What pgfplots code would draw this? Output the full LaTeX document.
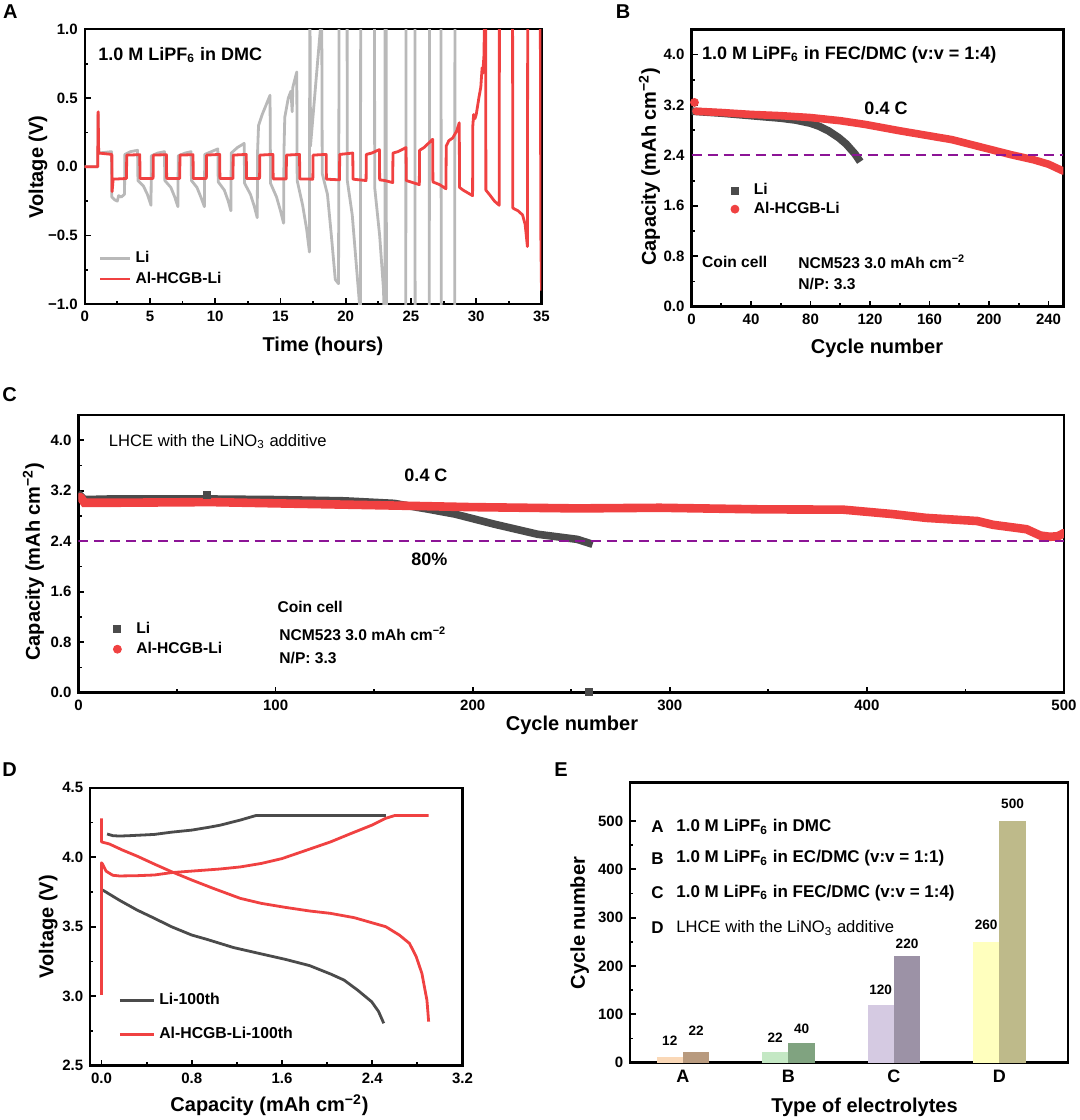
\documentclass[border=0pt]{standalone}
\usepackage{fontspec}
\setmainfont{Liberation Sans}
\usepackage{pgfplots}
\pgfplotsset{compat=1.18}
\definecolor{myred}{RGB}{240,65,65}
\definecolor{lgray}{RGB}{185,185,185}
\definecolor{dgray}{RGB}{75,75,75}
\definecolor{mypurple}{RGB}{140,20,150}
\definecolor{barAa}{RGB}{250,216,183}
\definecolor{barAb}{RGB}{184,154,126}
\definecolor{barBa}{RGB}{196,232,196}
\definecolor{barBb}{RGB}{128,163,128}
\definecolor{barCa}{RGB}{213,202,226}
\definecolor{barCb}{RGB}{156,146,166}
\definecolor{barDa}{RGB}{255,255,190}
\definecolor{barDb}{RGB}{190,186,138}
\newcommand{\fs}[1]{\fontsize{#1}{#1}\selectfont}
\pgfplotsset{
  panel/.style={scale only axis, anchor=south west,
    axis line style={line width=1.2pt},
    tick align=inside, tick pos=left,
    major tick length=3pt, minor tick length=1.6pt,
    every tick/.style={line width=0.9pt, black},
    tick label style={font=\fs{7.5}\bfseries},
    /pgf/number format/assume math mode=true,
    legend cell align=left,
  },
}
\begin{document}
\begin{tikzpicture}
\useasboundingbox (0,0) rectangle (540pt,560pt);

% ---------------- Panel A ----------------
\begin{axis}[panel, at={(42.35pt,407.85pt)}, width=228.4pt, height=137.5pt,
  xmin=0, xmax=35, ymin=-1, ymax=1,
  xtick={0,5,10,15,20,25,30,35}, xticklabels={0,5,10,15,20,25,30,35},
  ytick={-1,-0.5,0,0.5,1}, yticklabels={−1.0,−0.5,0.0,0.5,1.0},
  minor x tick num=1, minor y tick num=1,
  legend style={at={(0.03,0.05)}, anchor=south west, draw=none, fill=none,
    font=\fs{7.8}\bfseries, inner sep=0pt, row sep=-1pt},
  legend image code/.code={\draw[#1] (0pt,0pt) -- (15pt,0pt);},
]
\addplot[lgray, line width=1.4pt, line join=round] coordinates {
(0,0)(1.0,0)(1.03,0.38)(1.07,0.10)(2.05,0.11)(2.08,-0.22)(2.3,-0.24)(2.5,-0.25)(2.6,-0.21)(2.8,-0.22)(3.05,-0.20)
(3.08,0.09)(3.5,0.11)(4.05,0.12)(4.08,-0.10)(4.5,-0.14)(4.8,-0.20)(5.08,-0.28)
(5.11,0.08)(5.6,0.10)(6.11,0.11)(6.14,-0.10)(6.6,-0.15)(6.9,-0.22)(7.14,-0.29)
(7.17,0.08)(7.7,0.10)(8.15,0.11)(8.18,-0.10)(8.6,-0.15)(8.9,-0.22)(9.17,-0.29)
(9.20,0.09)(9.7,0.11)(10.20,0.13)(10.23,-0.11)(10.7,-0.17)(11.0,-0.25)(11.20,-0.32)
(11.23,0.10)(11.7,0.14)(12.22,0.17)(12.25,-0.12)(12.7,-0.20)(13.0,-0.29)(13.22,-0.37)
(13.25,0.12)(13.32,0.30)(13.6,0.38)(13.9,0.45)(14.2,0.52)(14.24,-0.12)(14.7,-0.22)(15.0,-0.32)(15.24,-0.41)
(15.27,0.12)(15.33,0.36)(15.6,0.50)(15.8,0.55)(15.9,0.40)(15.95,0.58)(16.25,0.69)
(16.28,-0.10)(16.7,-0.28)(17.0,-0.45)(17.22,-0.62)(17.25,1.5)(17.30,0.15)(18.10,1.05)(18.15,1.5)
(18.2,-0.05)(18.6,-0.2)(18.9,-0.5)(19.2,-0.82)(19.45,-0.85)(19.5,1.5)(20.1,1.5)
(20.12,-0.1)(20.5,-0.35)(20.8,-0.7)(21.1,-1.05)(21.12,-1.5)(21.15,1.5)(22.2,1.5)
(22.22,-0.15)(22.6,-0.5)(22.9,-0.9)(23.0,-1.5)(23.02,1.5)(23.1,1.5)(23.12,-1.5)
(24.6,-1.5)(24.62,1.5)(25.3,1.5)(25.32,-1.5)(26.4,-1.5)(26.42,1.5)(27.3,1.5)(27.32,-1.5)(28.35,-1.5)(28.37,1.5)
};
\addlegendentry{Li}
\addplot[myred, line width=1.4pt, line join=round] coordinates {
(0,0)(1.0,0)(1.03,0.40)(1.07,0.10)(2.08,0.09)(2.10,-0.18)(2.18,-0.09)(3.20,-0.085)
(3.22,0.085)(4.22,0.088)(4.24,-0.085)(5.24,-0.085)
(5.26,0.085)(6.26,0.088)(6.28,-0.085)(7.28,-0.085)
(7.30,0.085)(8.30,0.088)(8.32,-0.085)(9.32,-0.085)
(9.34,0.085)(10.34,0.09)(10.36,-0.085)(11.36,-0.085)
(11.38,0.085)(12.38,0.09)(12.40,-0.085)(13.40,-0.085)
(13.42,0.085)(14.42,0.09)(14.44,-0.088)(15.44,-0.088)
(15.46,0.085)(16.46,0.09)(16.48,-0.088)(17.48,-0.09)
(17.50,0.085)(18.50,0.09)(18.52,-0.09)(19.52,-0.095)
(19.54,0.09)(20.54,0.10)(20.56,-0.09)(21.56,-0.10)
(21.58,0.09)(22.0,0.10)(22.58,0.125)(22.60,-0.095)(23.0,-0.10)(23.60,-0.115)
(23.62,0.10)(24.0,0.11)(24.62,0.14)(24.64,-0.10)(25.64,-0.13)
(25.66,0.12)(26.0,0.14)(26.66,0.20)(26.68,-0.11)(27.2,-0.13)(27.68,-0.16)
(27.70,0.15)(27.9,0.19)(28.2,0.21)(28.5,0.26)(28.70,0.32)(28.72,-0.15)(29.0,-0.17)(29.72,-0.21)
(29.74,0.30)(29.8,0.38)(29.9,0.35)(30.0,0.38)(30.2,0.50)(30.35,0.58)(30.45,0.72)(30.5,0.68)(30.6,0.82)(30.65,1.5)(30.72,1.5)
(30.74,-0.17)(31.0,-0.20)(31.4,-0.25)(31.76,-0.28)(31.78,1.5)(32.78,1.5)
(32.80,-0.30)(33.2,-0.32)(33.55,-0.35)(33.75,-0.42)(33.92,-0.58)(33.95,1.5)(34.90,1.5)(34.95,-0.5)(35.0,-0.9)
};
\addlegendentry{Al-HCGB-Li}
\end{axis}

% ---------------- Panel B ----------------
\begin{axis}[panel, at={(345.75pt,406.65pt)}, width=185.95pt, height=138.7pt,
  xmin=0, xmax=250, ymin=0, ymax=4.4,
  xtick={0,40,80,120,160,200,240}, xticklabels={0,40,80,120,160,200,240},
  ytick={0,0.8,1.6,2.4,3.2,4.0}, yticklabels={0.0,0.8,1.6,2.4,3.2,4.0},
  minor x tick num=1, minor y tick num=1,
  legend style={at={(0.105,0.31)}, anchor=south west, draw=none, fill=none,
    font=\fs{7.8}\bfseries, inner sep=0pt, row sep=-2pt, column sep=5.5pt},
]
\addlegendimage{only marks, mark=square*, mark size=1.75pt, dgray}
\addlegendentry{Li}
\addlegendimage{only marks, mark=*, mark size=2pt, myred}
\addlegendentry{Al-HCGB-Li}
\addplot[dgray, line width=3.8pt, line cap=rect, forget plot] coordinates {
(1,3.10)(20,3.07)(40,3.03)(60,2.99)(70,2.96)(80,2.91)(86,2.86)(92,2.79)(99,2.68)(104,2.58)(107,2.50)(110,2.42)(112,2.35)};
\addplot[myred, line width=3.8pt, line cap=round, forget plot] coordinates {
(3,3.10)(20,3.08)(40,3.05)(60,3.03)(80,3.00)(100,2.95)(117,2.89)(140,2.79)(160,2.71)(175,2.65)(190,2.56)(200,2.50)(215,2.41)(230,2.33)(240,2.26)(250,2.15)};
\addplot[only marks, mark=*, mark size=2pt, myred, forget plot] coordinates {(2,3.24)};
\addplot[mypurple, line width=1.1pt, dash pattern=on 5pt off 3pt, forget plot] coordinates {(0,2.4)(250,2.4)};
\end{axis}

% ---------------- Panel C ----------------
\begin{axis}[panel, at={(39.25pt,213.65pt)}, width=492.75pt, height=138.85pt,
  xmin=0, xmax=500, ymin=0, ymax=4.4,
  xtick={0,100,200,300,400,500}, xticklabels={0,100,200,300,400,500},
  ytick={0,0.8,1.6,2.4,3.2,4.0}, yticklabels={0.0,0.8,1.6,2.4,3.2,4.0},
  minor x tick num=1, minor y tick num=1,
  legend style={at={(0.035,0.115)}, anchor=south west, draw=none, fill=none,
    font=\fs{7.8}\bfseries, inner sep=0pt, row sep=-1pt, column sep=5.5pt},
]
\addlegendimage{only marks, mark=square*, mark size=1.75pt, dgray}
\addlegendentry{Li}
\addlegendimage{only marks, mark=*, mark size=2pt, myred}
\addlegendentry{Al-HCGB-Li}
\addplot[dgray, line width=3.8pt, line cap=rect, forget plot] coordinates {
(1,3.12)(3,3.06)(17,3.07)(50,3.07)(64,3.07)(100,3.06)(135,3.04)(160,3.00)(177,2.91)(191,2.83)(211,2.67)(233,2.51)(253,2.43)(259,2.37)};
\addplot[only marks, mark=square*, mark size=1.75pt, dgray, forget plot] coordinates {(65,3.14)(259,0.02)};
\addplot[myred, line width=4.3pt, line cap=round, forget plot] coordinates {
(1,3.10)(3,3.01)(20,3.01)(67,3.02)(100,3.00)(169,2.96)(200,2.94)(253,2.92)(295,2.93)(346,2.905)(388,2.90)(413,2.83)(430,2.77)(456,2.72)(464,2.66)(481,2.59)(488,2.49)(493,2.47)(497,2.48)(500,2.53)};
\addplot[mypurple, line width=1.1pt, dash pattern=on 5pt off 3pt, forget plot] coordinates {(0,2.4)(500,2.4)};
\end{axis}

% ---------------- Panel D ----------------
\begin{axis}[panel, at={(45.1pt,27.15pt)}, width=186.15pt, height=139pt,
  xmin=-0.1, xmax=3.2, ymin=2.5, ymax=4.5,
  xtick={0,0.8,1.6,2.4,3.2}, xticklabels={0.0,0.8,1.6,2.4,3.2},
  ytick={2.5,3,3.5,4,4.5}, yticklabels={2.5,3.0,3.5,4.0,4.5},
  minor x tick num=1, minor y tick num=1,
  legend style={at={(0.075,0.07)}, anchor=south west, draw=none, fill=none,
    font=\fs{7.9}\bfseries, inner sep=0pt, row sep=6pt},
  legend image code/.code={\draw[#1] (0pt,0pt) -- (17pt,0pt);},
]
\addplot[dgray, line width=1.4pt, line join=round] coordinates {
(0.01,3.764)(0.16,3.69)(0.315,3.62)(0.47,3.56)(0.62,3.50)(0.8,3.44)(0.93,3.41)(1.17,3.35)(1.385,3.31)(1.63,3.265)(1.845,3.22)(2.03,3.16)(2.15,3.116)(2.27,3.044)(2.395,2.96)(2.456,2.89)(2.502,2.805)};
\addlegendentry{Li-100th}
\addplot[myred, line width=1.4pt, line join=round] coordinates {
(0,4.28)(0,4.11)(0.07,4.095)(0.19,4.05)(0.315,4.008)(0.47,3.95)(0.62,3.896)(0.8,3.836)(0.99,3.776)(1.23,3.704)(1.416,3.668)(1.63,3.639)(1.845,3.613)(2.03,3.596)(2.24,3.565)(2.395,3.529)(2.52,3.50)(2.64,3.44)(2.73,3.38)(2.79,3.284)(2.84,3.164)(2.885,2.97)(2.9,2.817)};
\addlegendentry{Al-HCGB-Li-100th}
\addplot[dgray, line width=1.4pt, line join=round, forget plot] coordinates {
(0.05,4.167)(0.10,4.155)(0.16,4.152)(0.25,4.155)(0.376,4.16)(0.47,4.164)(0.62,4.18)(0.8,4.195)(0.95,4.215)(1.05,4.23)(1.23,4.267)(1.37,4.30)(2.52,4.30)};
\addplot[myred, line width=1.4pt, line join=round, forget plot] coordinates {
(0,3.01)(0,3.96)(0.01,3.95)(0.04,3.90)(0.1,3.87)(0.16,3.865)(0.315,3.867)(0.47,3.872)(0.62,3.889)(0.8,3.90)(1.05,3.915)(1.23,3.93)(1.416,3.955)(1.6,3.99)(1.78,4.04)(2.03,4.11)(2.21,4.17)(2.395,4.23)(2.52,4.28)(2.6,4.30)(2.9,4.30)};
\end{axis}

% ---------------- Panel E ----------------
\begin{axis}[panel, at={(315.1pt,28.65pt)}, width=218.85pt, height=140.2pt,
  xmin=0.5, xmax=4.65, ymin=0, ymax=580,
  xtick={1,2,3,4}, xticklabels={A,B,C,D},
  xticklabel style={font=\fs{9}\bfseries},
  x tick style={draw=none},
  ytick={0,100,200,300,400,500}, yticklabels={0,100,200,300,400,500},
  minor y tick num=1,
]
\addplot[ybar, bar width=0.25, bar shift=0pt, fill=barAa, draw=none] coordinates {(0.875,12)};
\addplot[ybar, bar width=0.25, bar shift=0pt, fill=barAb, draw=none] coordinates {(1.125,22)};
\addplot[ybar, bar width=0.25, bar shift=0pt, fill=barBa, draw=none] coordinates {(1.875,22)};
\addplot[ybar, bar width=0.25, bar shift=0pt, fill=barBb, draw=none] coordinates {(2.125,40)};
\addplot[ybar, bar width=0.25, bar shift=0pt, fill=barCa, draw=none] coordinates {(2.875,120)};
\addplot[ybar, bar width=0.25, bar shift=0pt, fill=barCb, draw=none] coordinates {(3.125,220)};
\addplot[ybar, bar width=0.25, bar shift=0pt, fill=barDa, draw=none] coordinates {(3.875,250)};
\addplot[ybar, bar width=0.25, bar shift=0pt, fill=barDb, draw=none] coordinates {(4.125,500)};
\begin{scope}[every node/.style={font=\fs{6.8}\bfseries}]
\node at (axis cs:0.875,45.6) {12};
\node at (axis cs:1.125,65.8) {22};
\node at (axis cs:1.875,50.6) {22};
\node at (axis cs:2.125,69.3) {40};
\node at (axis cs:2.875,150.8) {120};
\node at (axis cs:3.125,246) {220};
\node at (axis cs:3.875,285.9) {260};
\node at (axis cs:4.125,534.6) {500};
\end{scope}
\end{axis}

% ---------------- Texts (pixel coordinates) ----------------
\begin{scope}[yshift=560pt, x=0.5pt, y=-0.5pt]
\begin{scope}[every node/.style={font=\fs{10}\bfseries}]
\node at (10.3,11.7) {A};
\node at (623,11.7) {B};
\node at (9.6,395) {C};
\node at (9.6,770) {D};
\node at (561,770) {E};
\node[rotate=90] at (37.9,167) {Voltage (V)};
\node at (323,346.7) {Time (hours)};
\node[rotate=90] at (649.5,166.7) {Capacity (mAh cm\textsuperscript{−2})};
\node at (877,348.3) {Cycle number};
\node[rotate=90] at (33.4,561.7) {Capacity (mAh cm\textsuperscript{−2})};
\node at (572,725) {Cycle number};
\node[rotate=90] at (48.2,926.7) {Voltage (V)};
\node at (269.5,1105) {Capacity (mAh cm\textsuperscript{−2})};
\node[rotate=90] at (579.6,923) {Cycle number};
\node at (864.5,1107.3) {Type of electrolytes};
\end{scope}
\begin{scope}[every node/.style={font=\fs{9}\bfseries, inner sep=0pt}]
\node[anchor=west] at (98,55) {1.0 M LiPF\textsubscript{6} in DMC};
\node[anchor=west] at (701.8,55) {1.0 M LiPF\textsubscript{6} in FEC/DMC (v:v = 1:4)};
\node at (886,108) {0.4 C};
\node at (426,475) {0.4 C};
\node at (429.4,559.3) {80\%};
\end{scope}
\begin{scope}[every node/.style={font=\fs{7.8}\bfseries, inner sep=0pt, anchor=west}]
\node at (701.8,262) {Coin cell};
\node at (798,262) {NCM523 3.0 mAh cm\textsuperscript{−2}};
\node at (798,284) {N/P: 3.3};
\node at (277.2,606.7) {Coin cell};
\node at (279,634) {NCM523 3.0 mAh cm\textsuperscript{−2}};
\node at (279,658.3) {N/P: 3.3};
\end{scope}
\node[font=\fs{8.3}, inner sep=0pt, anchor=west] at (108.5,441.7) {LHCE with the LiNO\textsubscript{3} additive};
\begin{scope}[every node/.style={font=\fs{8.5}\bfseries, inner sep=0pt, anchor=west}]
\node at (650.9,826.7) {A};
\node at (676,826.7) {1.0 M LiPF\textsubscript{6} in DMC};
\node at (650.9,858.3) {B};
\node at (676,858.3) {1.0 M LiPF\textsubscript{6} in EC/DMC (v:v = 1:1)};
\node at (650.9,892.7) {C};
\node at (676,892.7) {1.0 M LiPF\textsubscript{6} in FEC/DMC (v:v = 1:4)};
\node at (650.9,928) {D};
\end{scope}
\node[font=\fs{8.3}, inner sep=0pt, anchor=west] at (676,928) {LHCE with the LiNO\textsubscript{3} additive};
\end{scope}
\end{tikzpicture}
\end{document}
